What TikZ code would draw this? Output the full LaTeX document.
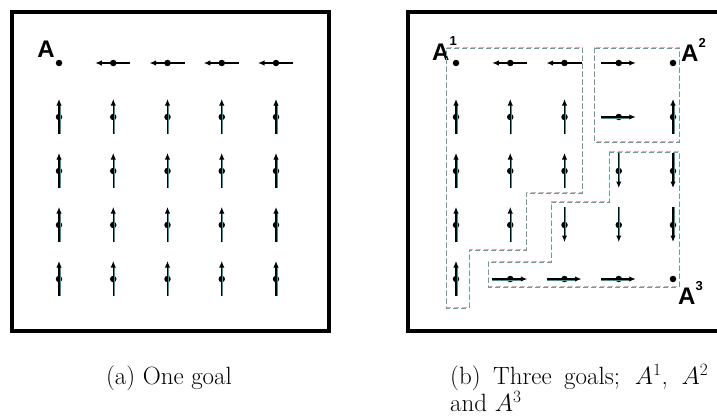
\documentclass[tikz,border=0pt]{standalone}
\usepackage{amsmath,amssymb}
\usepackage{fontspec}
\newfontfamily\goalfont{Liberation Sans}
\usetikzlibrary{arrows.meta,positioning}

\definecolor{dashred}{RGB}{238,165,165}
\definecolor{dashteal}{RGB}{95,160,160}
\definecolor{fringe}{RGB}{60,150,150}

\tikzset{
  dot/.style={circle,fill=black,inner sep=0pt,minimum size=6.5pt},
  vec/.style={line width=1.2pt,-{Latex[length=6.5pt,width=5.5pt]}},
  tint/.style={line width=0.8pt,draw=fringe},
  goal/.style={font={\goalfont\bfseries\fontsize{24}{24}\selectfont},inner sep=0pt},
  caption/.style={font={\fontsize{25}{27.5}\selectfont},inner sep=0pt},
  frame/.style={line width=4pt},
  zoneteal/.style={draw=dashteal,line width=0.9pt,dash pattern=on 5pt off 3pt},
  zonered/.style={draw=dashred,line width=0.9pt,dash pattern=on 5pt off 3pt,shift={(0.6pt,0.6pt)}}
}

\newcommand{\gsup}[1]{\raisebox{14pt}{\fontsize{13}{13}\selectfont #1}}
\newcommand{\vecup}[1]{%
  \draw[tint] ([shift={(0.9pt,-17pt)}]#1.center) -- ([shift={(0.9pt,12pt)}]#1.center);
  \draw[vec]  ([yshift=-17pt]#1.center) -- ([yshift=18pt]#1.center);}
\newcommand{\vecdown}[1]{%
  \draw[tint] ([shift={(0.9pt,18pt)}]#1.center) -- ([shift={(0.9pt,-11pt)}]#1.center);
  \draw[vec]  ([yshift=18pt]#1.center) -- ([yshift=-17pt]#1.center);}
\newcommand{\vecleft}[1]{%
  \draw[tint] ([shift={(17pt,-0.9pt)}]#1.center) -- ([shift={(-12pt,-0.9pt)}]#1.center);
  \draw[vec]  ([xshift=17pt]#1.center) -- ([xshift=-18pt]#1.center);}
\newcommand{\vecright}[1]{%
  \draw[tint] ([shift={(-18pt,-0.9pt)}]#1.center) -- ([shift={(11pt,-0.9pt)}]#1.center);
  \draw[vec]  ([xshift=-18pt]#1.center) -- ([xshift=17pt]#1.center);}

\begin{document}
\begin{tikzpicture}[x=1pt,y=-1pt]
  \useasboundingbox (0,0) rectangle (717,420);

  % (a) one goal
  \draw[frame] (12,12) rectangle (329,331);
  \foreach \r in {0,...,4}
    \foreach \c in {0,...,4}
      \node[dot] (a-\r-\c) at (59+54.25*\c,63+54*\r) {};
  \node[goal,anchor=base east] (goalA) at ([shift={(-4pt,5pt)}]a-0-0.center) {A};
  \foreach \c in {1,...,4} {\vecleft{a-0-\c}}
  \foreach \r in {1,...,4}
    \foreach \c in {0,...,4} {\vecup{a-\r-\c}}

  % (b) three goals
  \draw[frame] (408,12) rectangle (740,331);
  \foreach \r in {0,...,4}
    \foreach \c in {0,...,4}
      \node[dot] (b-\r-\c) at (456+54.25*\c,63+54*\r) {};
  \node[goal,anchor=base west] (goalB1) at ([shift={(-24pt,3pt)}]b-0-0.center) {A\gsup{1}};
  \node[goal,anchor=base west] (goalB2) at ([shift={(8pt,1pt)}]b-0-4.center)   {A\gsup{2}};
  \node[goal,anchor=base west] (goalB3) at ([shift={(5pt,-25pt)}]b-4-4.center) {A\gsup{3}};

  \foreach \n in {b-0-1,b-0-2} {\vecleft{\n}}
  \foreach \n in {b-0-3,b-1-3,b-4-1,b-4-2,b-4-3} {\vecright{\n}}
  \foreach \n in {b-1-0,b-1-1,b-1-2,b-1-4,b-2-0,b-2-1,b-2-2,b-3-0,b-3-1,b-4-0} {\vecup{\n}}
  \foreach \n in {b-2-3,b-2-4,b-3-2,b-3-3,b-3-4} {\vecdown{\n}}

  % regions of the goals
  \foreach \s in {zonered,zoneteal} {
    \draw[\s] (446,48) -- (582,48) -- (582,193) -- (526,193) -- (526,250)
              -- (469,250) -- (469,308) -- (446,308) -- cycle;
    \draw[\s] (594,48) rectangle (679,142);
    \draw[\s] (609,152) -- (679,152) -- (679,287) -- (488,287) -- (488,262)
              -- (551,262) -- (551,202) -- (609,202) -- cycle;
  }

  % captions
  \node[caption] (capa) at (169,378) {(a) One goal};
  \node[caption,text width=258pt,align=justify,anchor=north west] (capb) at (450,364)
    {(b) Three goals; $A^1$, $A^2$ and $A^3$};
\end{tikzpicture}
\end{document}
